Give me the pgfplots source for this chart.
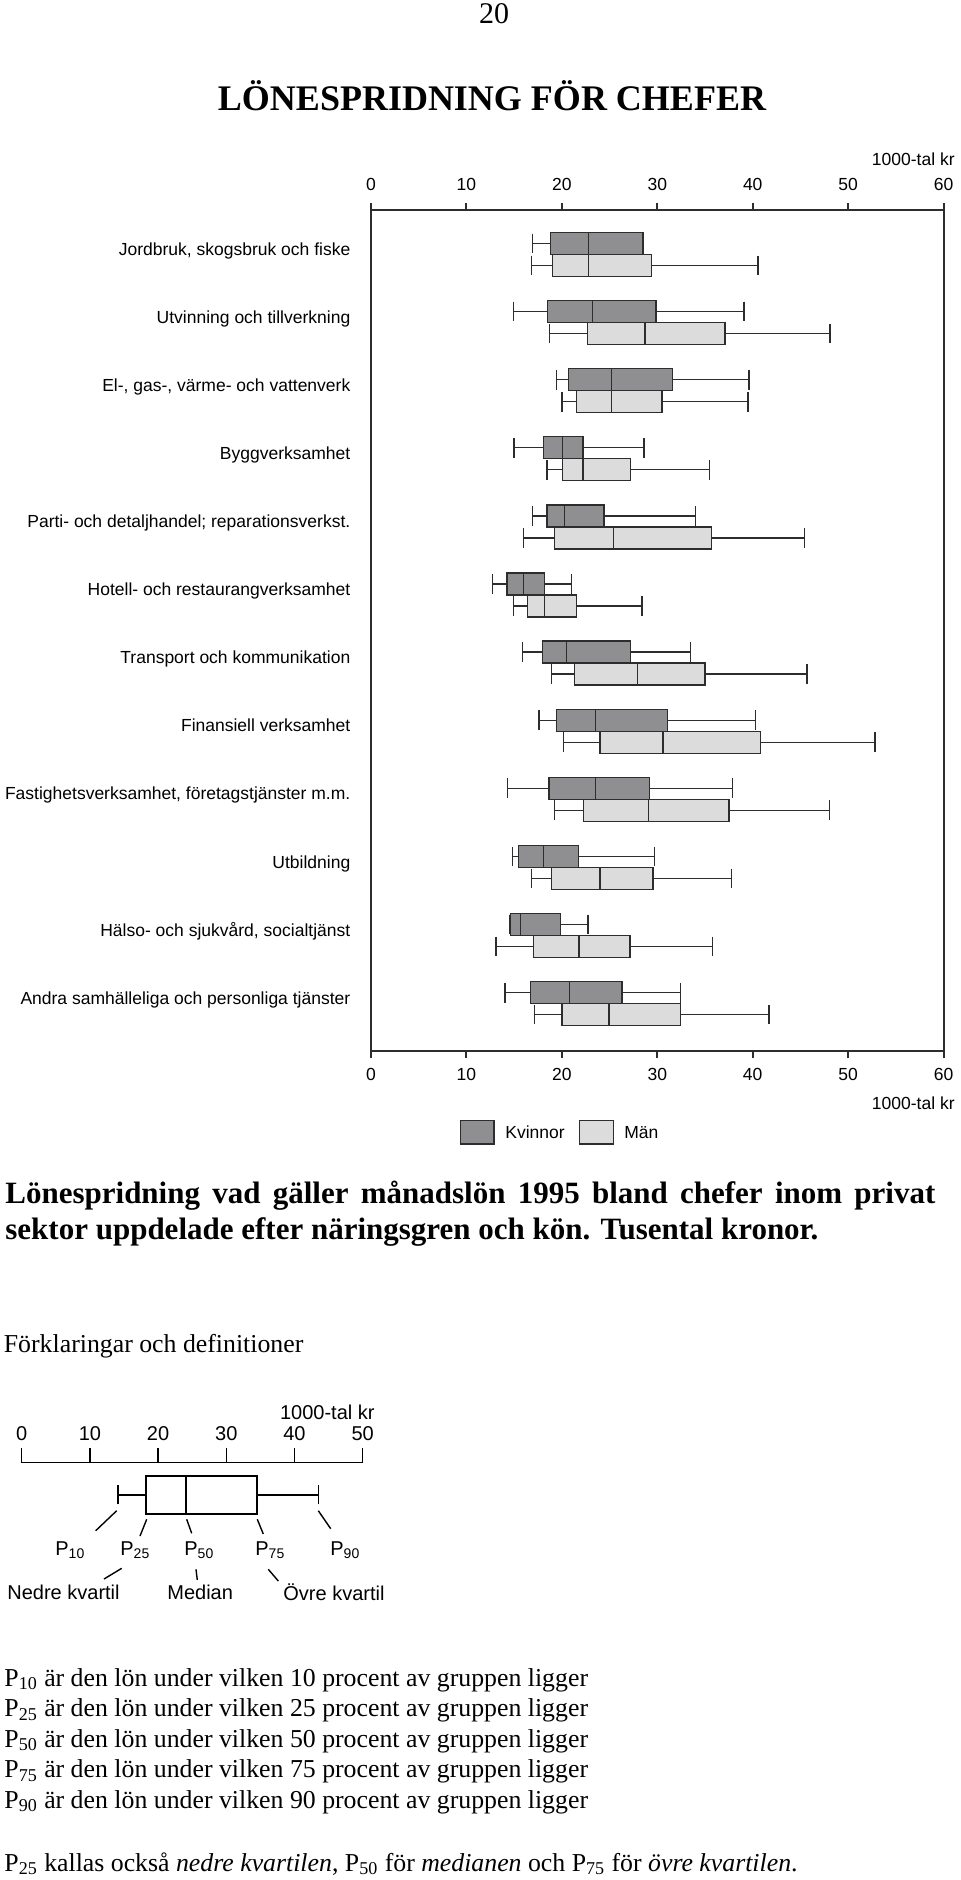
\documentclass[border=0pt]{standalone}
\usepackage{fontspec}
\setmainfont{Liberation Serif}
\newfontfamily\chartfont{Liberation Sans}
\usepackage{pgfplots}
\pgfplotsset{compat=1.18}
\usepgfplotslibrary{statistics}
\definecolor{kdark}{RGB}{143,143,145}
\definecolor{mlight}{RGB}{220,220,220}
\definecolor{edge}{RGB}{45,45,45}
\newcommand{\cf}{\chartfont\fontsize{8.75}{10}\selectfont}
\newcommand{\df}{\chartfont\fontsize{10}{12}\selectfont}
\newcommand{\bt}{\fontsize{12.9}{16}\selectfont}
\pgfplotsset{
 kbox/.style={draw=edge, fill=kdark, line width=0.65pt, solid},
 mbox/.style={draw=edge, fill=mlight, line width=0.65pt, solid},
}
\begin{document}
\begin{tikzpicture}
\path[use as bounding box] (0,0) rectangle (480pt,-940pt);
\begin{scope}[x=0.5pt,y=-0.5pt,every node/.style={inner sep=0pt}]
 % page number and title
 \node at (494,14) {\fontsize{15}{18}\selectfont 20};
 \node[anchor=base] at (492,110) {\fontsize{18}{22}\selectfont\bfseries LÖNESPRIDNING FÖR CHEFER};
 % unit labels
 \node[anchor=base east] at (955,165) {\cf 1000-tal kr};
 \node[anchor=base east] at (955,1109) {\cf 1000-tal kr};
 % legend
 \draw[edge, line width=0.6pt, fill=kdark] (460.5,1120.5) rectangle (494,1144);
 \node[anchor=base west] at (505,1138) {\cf Kvinnor};
 \draw[edge, line width=0.6pt, fill=mlight] (579.5,1120.5) rectangle (613.5,1144);
 \node[anchor=base west] at (624,1138) {\cf Män};
 % caption
 \node[anchor=base west] at (5,1203) {\fontsize{15.5}{18}\selectfont\bfseries\makebox[465pt][s]{Lönespridning vad gäller månadslön 1995 bland chefer inom privat}};
 \node[anchor=base west] at (5,1239) {\fontsize{15.5}{18}\selectfont\bfseries sektor uppdelade efter näringsgren och kön. Tusental kronor.};
 \node[anchor=base west] at (3.5,1352.5) {\bt Förklaringar och definitioner};
 % explanatory diagram annotations
 \node[anchor=base east] at (375,1419) {\df 1000-tal kr};
 \begin{scope}[line width=0.7pt]
 \draw (116.7,1510.7)--(95.7,1530.7);
 \draw (146.7,1519.3)--(140,1536);
 \draw (186.7,1519.3)--(191.7,1533.3);
 \draw (257.3,1519.3)--(263.3,1534);
 \draw (318.3,1510.7)--(330.7,1528.7);
 \draw (121.7,1568.3)--(104,1579);
 \draw (196,1569.3)--(197.3,1580);
 \draw (268.3,1569.3)--(278.3,1581);
 \end{scope}
 \node[anchor=base west] at (55,1555) {\df P\textsubscript{10}};
 \node[anchor=base west] at (120,1555) {\df P\textsubscript{25}};
 \node[anchor=base west] at (184,1555) {\df P\textsubscript{50}};
 \node[anchor=base west] at (255,1555) {\df P\textsubscript{75}};
 \node[anchor=base west] at (330,1555) {\df P\textsubscript{90}};
 \node[anchor=base west] at (7,1599) {\df Nedre kvartil};
 \node[anchor=base west] at (167,1599) {\df Median};
 \node[anchor=base west] at (283,1600) {\df Övre kvartil};
 % definitions
 \node[anchor=base west] at (4,1686) {\bt P\textsubscript{10} är den lön under vilken 10 procent av gruppen ligger};
 \node[anchor=base west] at (4,1716.5) {\bt P\textsubscript{25} är den lön under vilken 25 procent av gruppen ligger};
 \node[anchor=base west] at (4,1747) {\bt P\textsubscript{50} är den lön under vilken 50 procent av gruppen ligger};
 \node[anchor=base west] at (4,1777.5) {\bt P\textsubscript{75} är den lön under vilken 75 procent av gruppen ligger};
 \node[anchor=base west] at (4,1808) {\bt P\textsubscript{90} är den lön under vilken 90 procent av gruppen ligger};
 \node[anchor=base west] at (4,1871) {\bt P\textsubscript{25} kallas också \textit{nedre kvartilen}, P\textsubscript{50} för \textit{medianen} och P\textsubscript{75} för \textit{övre kvartilen}.};
\end{scope}

% main chart
\begin{axis}[
 at={(185.5pt,-105pt)}, anchor=north west,
 scale only axis, width=286.3pt, height=420.5pt,
 xmin=0, xmax=60, ymin=0.3465, ymax=12.696, y dir=reverse,
 xtick={0,10,...,60}, xtick pos=both, xticklabel pos=lower,
 tick align=outside, major tick length=3.5pt,
 ytick={1,...,12},
 yticklabels={{Jordbruk, skogsbruk och fiske},{Utvinning och tillverkning},{El-, gas-, värme- och vattenverk},{Byggverksamhet},{Parti- och detaljhandel; reparationsverkst.},{Hotell- och restaurangverksamhet},{Transport och kommunikation},{Finansiell verksamhet},{Fastighetsverksamhet, företagstjänster m.m.},{Utbildning},{Hälso- och sjukvård, socialtjänst},{Andra samhälleliga och personliga tjänster}},
 y tick style={draw=none},
 yticklabel style={font=\cf, anchor=base east, inner sep=0pt, xshift=-6.65pt, yshift=-0.3pt},
 xticklabel style={font=\cf, anchor=base, inner sep=0pt, yshift=-11pt},
 axis line style={line width=1pt, draw=edge},
 x tick style={line width=1pt, draw=edge},
 /pgf/number format/assume math mode=true,
 boxplot/box extend=0.323, boxplot/whisker extend=0.29,
]
\addplot[kbox, boxplot prepared={draw position=0.8385, lower whisker=16.9, lower quartile=18.8, median=22.8, upper quartile=28.5, upper whisker=28.5}] coordinates {};
\addplot[mbox, boxplot prepared={draw position=1.1615, lower whisker=16.8, lower quartile=19.05, median=22.8, upper quartile=29.4, upper whisker=40.55}] coordinates {};
\addplot[kbox, boxplot prepared={draw position=1.8385, lower whisker=14.9, lower quartile=18.5, median=23.2, upper quartile=29.85, upper whisker=39.1}] coordinates {};
\addplot[mbox, boxplot prepared={draw position=2.1615, lower whisker=18.7, lower quartile=22.7, median=28.7, upper quartile=37.1, upper whisker=48.1}] coordinates {};
\addplot[kbox, boxplot prepared={draw position=2.8385, lower whisker=19.45, lower quartile=20.7, median=25.2, upper quartile=31.6, upper whisker=39.6}] coordinates {};
\addplot[mbox, boxplot prepared={draw position=3.1615, lower whisker=20.0, lower quartile=21.5, median=25.2, upper quartile=30.5, upper whisker=39.5}] coordinates {};
\addplot[kbox, boxplot prepared={draw position=3.8385, lower whisker=15.0, lower quartile=18.1, median=20.1, upper quartile=22.2, upper whisker=28.6}] coordinates {};
\addplot[mbox, boxplot prepared={draw position=4.1615, lower whisker=18.45, lower quartile=20.05, median=22.2, upper quartile=27.2, upper whisker=35.5}] coordinates {};
\addplot[kbox, boxplot prepared={draw position=4.8385, lower whisker=16.9, lower quartile=18.45, median=20.3, upper quartile=24.4, upper whisker=34.0}] coordinates {};
\addplot[mbox, boxplot prepared={draw position=5.1615, lower whisker=16.0, lower quartile=19.2, median=25.4, upper quartile=35.7, upper whisker=45.4}] coordinates {};
\addplot[kbox, boxplot prepared={draw position=5.8385, lower whisker=12.7, lower quartile=14.25, median=15.95, upper quartile=18.15, upper whisker=21.0}] coordinates {};
\addplot[mbox, boxplot prepared={draw position=6.1615, lower whisker=14.9, lower quartile=16.4, median=18.15, upper quartile=21.5, upper whisker=28.4}] coordinates {};
\addplot[kbox, boxplot prepared={draw position=6.8385, lower whisker=15.9, lower quartile=18.0, median=20.5, upper quartile=27.2, upper whisker=33.5}] coordinates {};
\addplot[mbox, boxplot prepared={draw position=7.1615, lower whisker=18.9, lower quartile=21.35, median=27.9, upper quartile=35.0, upper whisker=45.7}] coordinates {};
\addplot[kbox, boxplot prepared={draw position=7.8385, lower whisker=17.6, lower quartile=19.45, median=23.5, upper quartile=31.1, upper whisker=40.3}] coordinates {};
\addplot[mbox, boxplot prepared={draw position=8.1615, lower whisker=20.2, lower quartile=24.0, median=30.6, upper quartile=40.8, upper whisker=52.8}] coordinates {};
\addplot[kbox, boxplot prepared={draw position=8.8385, lower whisker=14.3, lower quartile=18.65, median=23.5, upper quartile=29.2, upper whisker=37.9}] coordinates {};
\addplot[mbox, boxplot prepared={draw position=9.1615, lower whisker=19.2, lower quartile=22.3, median=29.1, upper quartile=37.5, upper whisker=48.05}] coordinates {};
\addplot[kbox, boxplot prepared={draw position=9.8385, lower whisker=14.8, lower quartile=15.45, median=18.1, upper quartile=21.75, upper whisker=29.7}] coordinates {};
\addplot[mbox, boxplot prepared={draw position=10.1615, lower whisker=16.8, lower quartile=18.95, median=24.0, upper quartile=29.55, upper whisker=37.8}] coordinates {};
\addplot[kbox, boxplot prepared={draw position=10.8385, lower whisker=14.5, lower quartile=14.6, median=15.65, upper quartile=19.85, upper whisker=22.75}] coordinates {};
\addplot[mbox, boxplot prepared={draw position=11.1615, lower whisker=13.1, lower quartile=17.05, median=21.8, upper quartile=27.15, upper whisker=35.8}] coordinates {};
\addplot[kbox, boxplot prepared={draw position=11.8385, lower whisker=14.05, lower quartile=16.7, median=20.8, upper quartile=26.3, upper whisker=32.4}] coordinates {};
\addplot[mbox, boxplot prepared={draw position=12.1615, lower whisker=17.1, lower quartile=20.0, median=24.95, upper quartile=32.4, upper whisker=41.7}] coordinates {};
\end{axis}

% top tick labels
\begin{axis}[
 at={(185.5pt,-105pt)}, anchor=north west,
 scale only axis, width=286.3pt, height=420.5pt,
 xmin=0, xmax=60, ymin=0.3465, ymax=12.696, y dir=reverse,
 xtick={0,10,...,60}, xtick pos=both, xticklabel pos=upper,
 tick align=outside, major tick length=3.5pt,
 ytick=\empty,
 xticklabel style={font=\cf, anchor=base, inner sep=0pt, yshift=6.25pt},
 axis line style={line width=1pt, draw=edge},
 x tick style={line width=1pt, draw=edge},
 /pgf/number format/assume math mode=true,
]
\end{axis}

% explanatory diagram
\begin{axis}[
 at={(10.85pt,-731.35pt)}, anchor=north west,
 scale only axis, width=170.5pt, height=30pt,
 xmin=0, xmax=50, ymin=-60, ymax=0,
 axis x line=top, axis y line=none, axis line style={-, line width=0.75pt},
 xtick={0,10,...,50}, tick align=outside, major tick length=7.35pt,
 x tick style={line width=0.75pt, black},
 xticklabel style={font=\df, anchor=base, inner sep=0pt, yshift=3.65pt},
 /pgf/number format/assume math mode=true,
]
\addplot[draw=black, fill=white, line width=0.85pt, boxplot prepared={draw position=-32.15, lower whisker=14.17, lower quartile=18.23, median=24.1, upper quartile=34.46, upper whisker=43.5, box extend=38.3, whisker extend=19}] coordinates {};
\end{axis}
\end{tikzpicture}
\end{document}
